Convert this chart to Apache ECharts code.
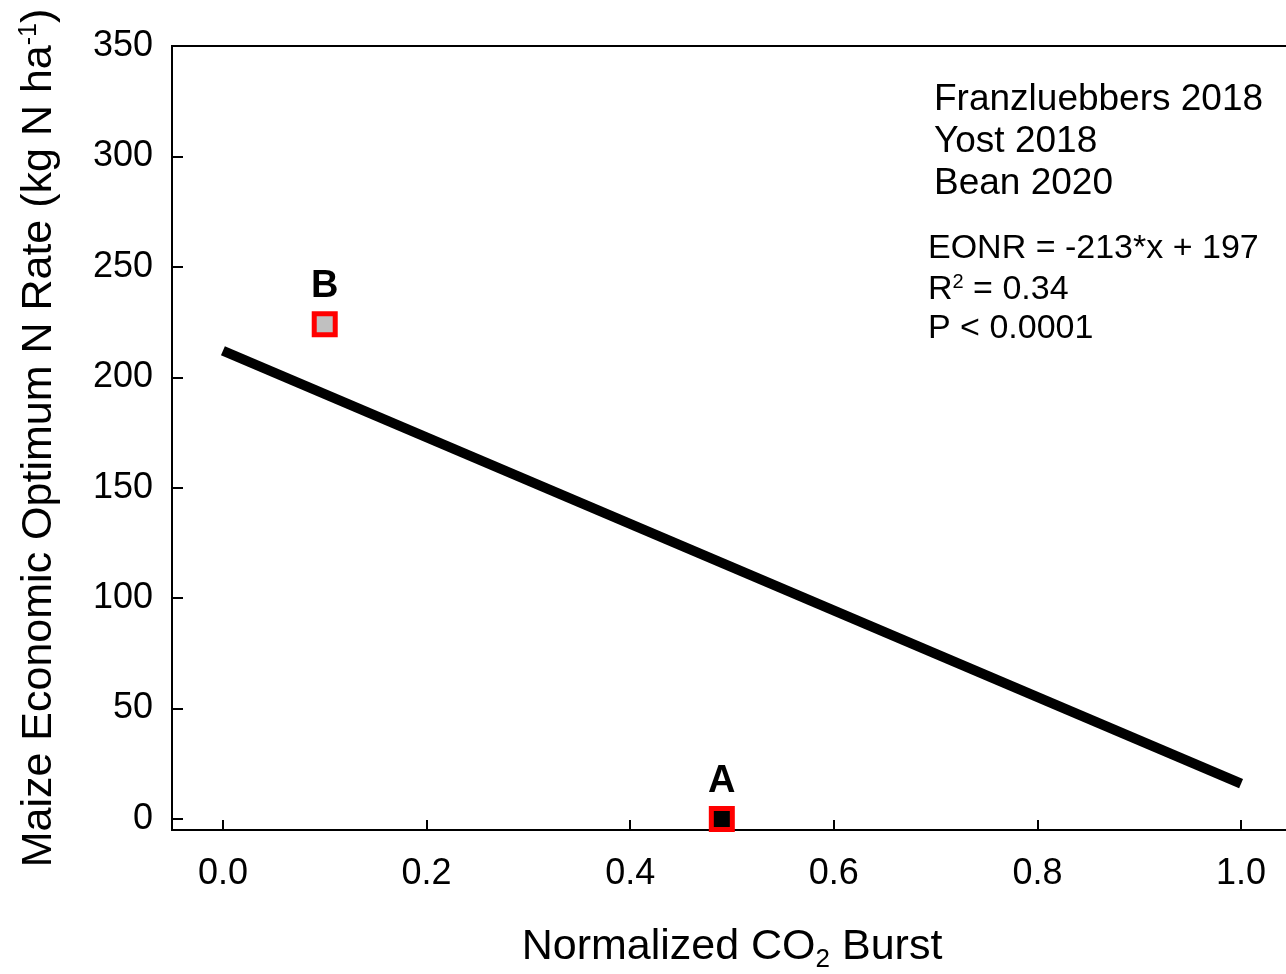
<!DOCTYPE html>
<html>
<head>
<meta charset="utf-8">
<script src="https://cdn.jsdelivr.net/npm/echarts@6/dist/echarts.min.js"></script>
<style>
  html, body { margin: 0; padding: 0; background: #fff; }
  #chart { width: 1286px; height: 974px; }
</style>
</head>
<body>
<div id="chart"></div>
<script>
// data
var pointA = [[0.49, 0]];
var pointB = [[0.10, 224]];
var fitLine = [[0.0, 212], [1.0, 16]];
var legendLines = ['Franzluebbers 2018', 'Yost 2018', 'Bean 2020'];
var statLines = ['EONR = -213*x + 197', '{a|R}{sup|2}{a| = 0.34}', 'P < 0.0001'];

var font = "'Liberation Sans', Arial, sans-serif";

var chart = echarts.init(document.getElementById('chart'));

var texts = [];
legendLines.forEach(function (t, i) {
  texts.push({
    type: 'text', left: 934, top: 81 + i * 42,
    style: { text: t, font: '37px ' + font, fill: '#000' }
  });
});
statLines.forEach(function (t, i) {
  texts.push({
    type: 'text', left: 928, top: 232 + i * 40,
    style: {
      text: t, fontSize: 34, fontFamily: font, fill: '#000',
      rich: {
        a: { fontSize: 34, fontFamily: font },
        sup: { fontSize: 20, fontFamily: font, verticalAlign: 'top', padding: [0, 0, 16, 0] }
      }
    }
  });
});

var option = {
  animation: false,
  grid: {
    left: 172, top: 46, width: 1120, height: 784,
    outerBoundsMode: 'none',
    show: true, borderColor: '#000', borderWidth: 2, backgroundColor: 'transparent'
  },
  xAxis: {
    type: 'value', min: -0.05, max: 1.05, splitNumber: 5,
    name: '{a|Normalized CO}{sub|2}{a| Burst}',
    nameLocation: 'middle', nameGap: 91,
    nameTextStyle: {
      rich: {
        a: { fontSize: 43, fontFamily: font, color: '#000' },
        sub: { fontSize: 26, fontFamily: font, color: '#000', padding: [26, 0, 0, 0] }
      }
    },
    axisLine: { onZero: false, lineStyle: { color: '#000', width: 2 } },
    axisTick: { inside: true, length: 10, lineStyle: { color: '#000', width: 2 } },
    axisLabel: {
      fontSize: 36, fontFamily: font, color: '#000', margin: 26,
      showMinLabel: false, showMaxLabel: false,
      formatter: function (v) { return v.toFixed(1); }
    },
    splitLine: { show: false }
  },
  yAxis: {
    type: 'value', min: -5, max: 350, splitNumber: 7,
    name: '{a|Maize Economic Optimum N Rate (kg N ha}{sup|-1}{a|)}',
    nameLocation: 'middle', nameGap: 110,
    nameTextStyle: {
      rich: {
        a: { fontSize: 43, fontFamily: font, color: '#000' },
        sup: { fontSize: 25, fontFamily: font, color: '#000', padding: [0, 0, 20, 0] }
      }
    },
    axisLine: { show: true, onZero: false, lineStyle: { color: '#000', width: 2 } },
    axisTick: { show: true, inside: true, length: 11, lineStyle: { color: '#000', width: 2 } },
    axisLabel: {
      fontSize: 36, fontFamily: font, color: '#000', margin: 19,
      padding: [6, 0, 0, 0],
      showMinLabel: false
    },
    splitLine: { show: false }
  },
  graphic: texts,
  series: [
    {
      type: 'line', data: fitLine, symbol: 'none', silent: true,
      lineStyle: { color: '#000', width: 10 }
    },
    {
      type: 'scatter', data: pointB, symbol: 'rect', symbolSize: 21,
      itemStyle: { color: '#c0c0c0', borderColor: '#ff0000', borderWidth: 5, opacity: 1 },
      label: { show: true, position: 'top', distance: 6, formatter: 'B',
        fontSize: 38, fontWeight: 'bold', fontFamily: font, color: '#000' }
    },
    {
      type: 'scatter', data: pointA, symbol: 'rect', symbolSize: 21,
      itemStyle: { color: '#000', borderColor: '#ff0000', borderWidth: 5, opacity: 1 },
      label: { show: true, position: 'top', distance: 5, formatter: 'A',
        fontSize: 38, fontWeight: 'bold', fontFamily: font, color: '#000' }
    }
  ]
};
chart.setOption(option);
window.onresize = chart.resize;
</script>
</body>
</html>
